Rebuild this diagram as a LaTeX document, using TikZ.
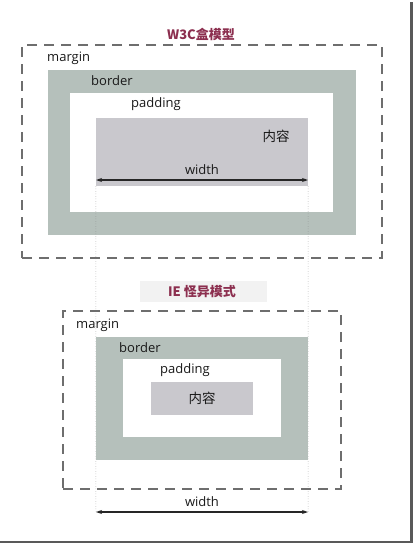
\documentclass[tikz,border=0pt]{standalone}
\usepackage{fontspec}
\setmainfont{Open Sans}
\newfontfamily\cjk{Noto Sans CJK SC}
\usetikzlibrary{arrows.meta}
\definecolor{bordergray}{HTML}{B5C0BB}
\definecolor{contentgray}{HTML}{C9C8CD}
\definecolor{titlered}{HTML}{8C2F4F}
\definecolor{dashgray}{HTML}{6E6E6E}
\definecolor{labelbg}{HTML}{F2F2F2}
\begin{document}
\begin{tikzpicture}[x=1pt, y=-1pt,
    lbl/.style={inner sep=0pt, font=\fontsize{13}{15}\selectfont, text=black!90},
    ttl/.style={inner sep=0pt, font=\cjk\bfseries\fontsize{13}{15}\selectfont, text=titlered},
    marginbox/.style={draw=dashgray, line width=1.1pt, dash pattern=on 10pt off 7pt, inner sep=0pt},
    borderbox/.style={fill=bordergray, inner sep=0pt},
    padbox/.style={fill=white, inner sep=0pt},
    contentbox/.style={fill=contentgray, inner sep=0pt},
    guide/.style={draw=gray, line width=0.5pt, dotted},
    widtharrow/.style={line width=1.2pt, draw=black!85, {Stealth[length=6pt,width=4pt]}-{Stealth[length=6pt,width=4pt]}}]
    \useasboundingbox (0,0) rectangle (415,546);
    % W3C box model
    \node[ttl] (wtitle) at (201,34) {W3C盒模型};
    \node[marginbox, minimum width=360pt, minimum height=213pt] (wmargin) at (202,151.5) {};
    \node[borderbox, minimum width=308pt, minimum height=165pt] (wborder) at (202,152.5) {};
    \node[padbox, minimum width=263pt, minimum height=119pt] (wpad) at (201.5,152.5) {};
    \node[contentbox, minimum width=212pt, minimum height=68pt] (wcontent) at (202,152) {};
    \node[lbl, anchor=west] (wmarginlbl) at (47,58) {margin};
    \node[lbl, anchor=west] (wborderlbl) at (91,81) {border};
    \node[lbl, anchor=west] (wpadlbl) at (131,104) {padding};
    \node[lbl, font=\cjk\fontsize{13.5}{15}\selectfont] (wtext) at (276,136) {内容};
    \node[lbl] (wwidth) at (202,170) {width};
    \coordinate (wl) at (96,180);
    \coordinate (wr) at (308,180);
    \draw[widtharrow] (wl) -- (wr);
    % guides down to the IE width
    \coordinate (iel) at (96,512);
    \coordinate (ier) at (308,512);
    \draw[guide] (wcontent.south west) -- (iel);
    \draw[guide] (wcontent.south east) -- (ier);
    % IE quirks mode
    \node[fill=labelbg, minimum width=127pt, minimum height=21pt, inner sep=0pt] (ietitlebg) at (203.5,291.5) {};
    \node[ttl] (ietitle) at (202,292) {IE 怪异模式};
    \node[marginbox, minimum width=278pt, minimum height=178pt] (iemargin) at (202,400) {};
    \node[borderbox, minimum width=212pt, minimum height=123pt] (ieborder) at (202,398.5) {};
    \node[padbox, minimum width=158pt, minimum height=78pt] (iepad) at (202,398) {};
    \node[contentbox, minimum width=102pt, minimum height=33pt] (iecontent) at (202,398.5) {};
    \node[lbl, anchor=west] (iemarginlbl) at (76,325) {margin};
    \node[lbl, anchor=west] (ieborderlbl) at (119,348) {border};
    \node[lbl, anchor=west] (iepadlbl) at (160,370) {padding};
    \node[lbl, font=\cjk\fontsize{13.5}{15}\selectfont] (ietext) at (202,398) {内容};
    \node[lbl] (iewidth) at (202,502) {width};
    \draw[widtharrow] (iel) -- (ier);
    % frame shadow
    \coordinate (fa) at (0,542);
    \coordinate (fb) at (411.5,542);
    \coordinate (fc) at (411.5,2);
    \draw[line width=2.5pt, draw=black!65] (fa) -- (fb) -- (fc);
\end{tikzpicture}
\end{document}
